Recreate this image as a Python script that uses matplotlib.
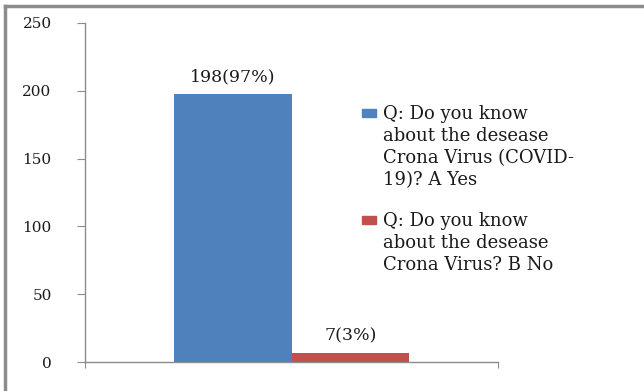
import matplotlib
matplotlib.use('Agg')
import matplotlib.pyplot as plt
from matplotlib.lines import Line2D
from matplotlib.patches import Rectangle

# Veriler
series_labels = ['Q: Do you know\nabout the desease\nCrona Virus (COVID-\n19)? A Yes',
                 'Q: Do you know\nabout the desease\nCrona Virus? B No']
counts = [198, 7]
bar_texts = ['198(97%)', '7(3%)']
colors = ['#4F81BD', '#C0504D']
y_ticks = [0, 50, 100, 150, 200, 250]

plt.rcParams['font.family'] = ['DejaVu Serif']
W, H = 644, 391

fig = plt.figure(figsize=(W / 100, H / 100), dpi=100)
ax = fig.add_axes([85 / W, 1 - 362 / H, 413 / W, 339 / H])

width = 0.2857
offsets = [-width / 2, width / 2]
for i, (val, txt, col) in enumerate(zip(counts, bar_texts, colors)):
    ax.bar(offsets[i], val, width=width, color=col)
    ax.annotate(txt, (offsets[i], val), xytext=(0, 8.5), textcoords='offset points',
                ha='center', va='baseline', fontsize=12.5, color='#1a1a1a')

ax.set_xlim(-0.5, 0.5)
ax.set_ylim(0, 250)
ax.set_yticks(y_ticks)
ax.set_xticks([-0.5, 0.5])
ax.set_xticklabels([])

for s in ['top', 'right']:
    ax.spines[s].set_visible(False)
for s in ['left', 'bottom']:
    ax.spines[s].set_color('#8c8c8c')
    ax.spines[s].set_linewidth(1.0)
ax.tick_params(axis='y', length=6, pad=18, color='#8c8c8c', labelsize=11, labelcolor='#1a1a1a')
ax.tick_params(axis='x', length=4, color='#8c8c8c')

# Legend (elle çizildi: kare ilk satıra hizalı)
first_baselines = [119, 226]
line_gap = 22
for lab, col, y0 in zip(series_labels, colors, first_baselines):
    fig.add_artist(Rectangle((362 / W, 1 - (y0 - 2) / H), 14 / W, 8 / H,
                             transform=fig.transFigure, color=col))
    for k, line in enumerate(lab.split('\n')):
        fig.text(383 / W, 1 - (y0 + k * line_gap) / H, line, fontsize=13,
                 va='baseline', ha='left', color='#1a1a1a')

# Dış çerçeve (sol ve üst)
fig.add_artist(Line2D([5 / W, 5 / W], [0, 1 - 6 / H], color='#8c8c8c', linewidth=2.5))
fig.add_artist(Line2D([5 / W, 1], [1 - 6 / H, 1 - 6 / H], color='#8c8c8c', linewidth=2.5))

fig.savefig('out.png', dpi=100)
